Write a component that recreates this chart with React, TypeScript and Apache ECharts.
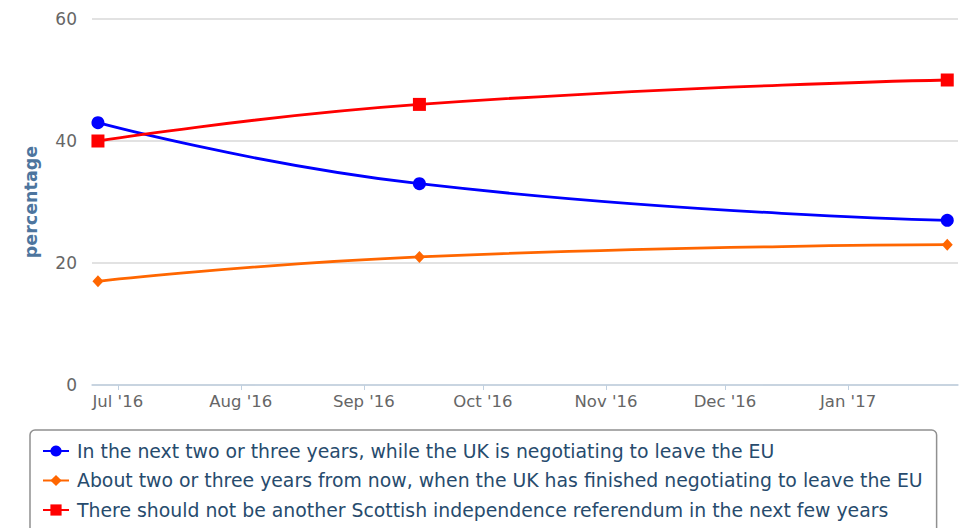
import React, { useEffect, useRef } from "react";
import * as echarts from "echarts";

const dates = [new Date(2016, 5, 26).getTime(), new Date(2016, 8, 15).getTime(), new Date(2017, 0, 26).getTime()];
const seriesNames = [
  "In the next two or three years, while the UK is negotiating to leave the EU",
  "About two or three years from now, when the UK has finished negotiating to leave the EU",
  "There should not be another Scottish independence referendum in the next few years",
];
const duringNegotiation = [43, 33, 27];
const afterNegotiation = [17, 21, 23];
const noReferendum = [40, 46, 50];
const monthTicks = [
  new Date(2016, 6, 1).getTime(),
  new Date(2016, 7, 1).getTime(),
  new Date(2016, 8, 1).getTime(),
  new Date(2016, 9, 1).getTime(),
  new Date(2016, 10, 1).getTime(),
  new Date(2016, 11, 1).getTime(),
  new Date(2017, 0, 1).getTime(),
];
const monthNames = ["Jan", "Feb", "Mar", "Apr", "May", "Jun", "Jul", "Aug", "Sep", "Oct", "Nov", "Dec"];

const FONT = "DejaVu Sans";

export default function App() {
  const ref = useRef<HTMLDivElement>(null);
  useEffect(() => {
    document.body.style.margin = "0";
    const chart = echarts.init(ref.current!, null, { renderer: "svg" });
    const mk = (vals: number[]) => vals.map((v, i) => [dates[i], v]);
    chart.setOption({
      animation: false,
      textStyle: { fontFamily: FONT },
      grid: { left: 92, right: 11, top: 19, bottom: 143, containLabel: false },
      xAxis: {
        type: "value",
        min: new Date(2016, 5, 24, 12).getTime(),
        max: new Date(2017, 0, 28, 17).getTime(),
        axisLine: { show: true, onZero: false, lineStyle: { color: "#C0D0E0", width: 1.5 } },
        axisTick: { show: true, length: 5, lineStyle: { color: "#C0D0E0" }, customValues: monthTicks },
        splitLine: { show: false },
        axisLabel: {
          customValues: monthTicks,
          color: "#666666",
          fontSize: 16.5,
          fontFamily: FONT,
          margin: 8,
          formatter: (v: number) => {
            const d = new Date(v);
            return monthNames[d.getMonth()] + " '" + String(d.getFullYear()).slice(2);
          },
        },
      },
      yAxis: {
        type: "value",
        min: 0,
        max: 60,
        interval: 20,
        name: "percentage",
        nameLocation: "middle",
        nameGap: 52,
        nameTextStyle: { color: "#4d759e", fontSize: 17.5, fontWeight: "bold", fontFamily: FONT },
        axisLine: { show: false },
        axisTick: { show: false },
        axisLabel: { color: "#666666", fontSize: 17, margin: 15, fontFamily: FONT },
        splitLine: { lineStyle: { color: "#D8D8D8", width: 1.5 } },
      },
      legend: {
        orient: "vertical",
        left: 30,
        top: 430,
        height: 140,
        padding: [11, 14, 30, 12],
        itemGap: 9.5,
        itemWidth: 26,
        itemHeight: 14,
        borderColor: "#909090",
        borderWidth: 1.5,
        borderRadius: 5,
        textStyle: { color: "#274b6d", fontSize: 18.85, lineHeight: 20, fontFamily: FONT, padding: [0, 0, 0, 3] },
        data: seriesNames,
      },
      series: [
        {
          name: seriesNames[0],
          type: "line",
          smooth: true,
          data: mk(duringNegotiation),
          symbol: "circle",
          symbolSize: 13,
          lineStyle: { width: 2.8, color: "#0000FF" },
          itemStyle: { color: "#0000FF" },
        },
        {
          name: seriesNames[1],
          type: "line",
          smooth: true,
          data: mk(afterNegotiation),
          symbol: "diamond",
          symbolSize: [11, 12],
          lineStyle: { width: 2.8, color: "#FF6600" },
          itemStyle: { color: "#FF6600" },
        },
        {
          name: seriesNames[2],
          type: "line",
          smooth: true,
          data: mk(noReferendum),
          symbol: "rect",
          symbolSize: 13,
          lineStyle: { width: 2.8, color: "#FF0000" },
          itemStyle: { color: "#FF0000" },
        },
      ],
    });
    return () => chart.dispose();
  }, []);
  return <div ref={ref} style={{ width: 969, height: 528 }} />;
}
